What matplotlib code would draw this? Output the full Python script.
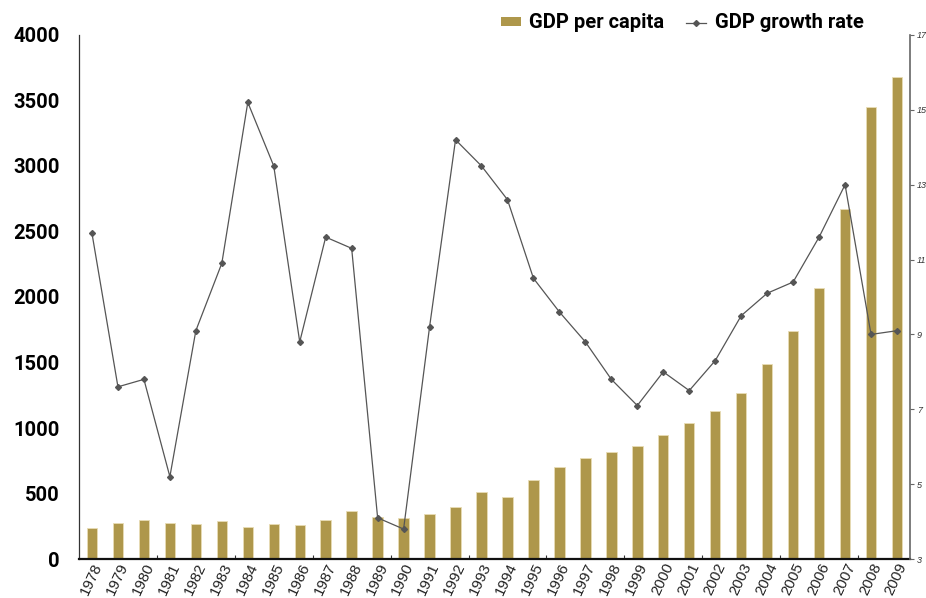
import matplotlib
matplotlib.use("Agg")
import matplotlib.pyplot as plt
from matplotlib.ticker import MultipleLocator, FixedLocator, NullFormatter
from matplotlib.patches import Patch
from matplotlib.lines import Line2D
import numpy as np

# data
years = [str(y) for y in range(1978, 2010)]
gdp_per_capita = [237, 275, 300, 277, 270, 290, 244, 265, 257, 295,
                  364, 318, 310, 343, 397, 514, 476, 603, 700, 771,
                  817, 860, 944, 1036, 1132, 1270, 1489, 1738, 2069, 2674,
                  3450, 3679]
growth_rate = [11.7, 7.6, 7.8, 5.2, 9.1, 10.9, 15.2, 13.5, 8.8, 11.6,
               11.3, 4.1, 3.8, 9.2, 14.2, 13.5, 12.6, 10.5, 9.6, 8.8,
               7.8, 7.1, 8.0, 7.5, 8.3, 9.5, 10.1, 10.4, 11.6, 13.0,
               9.0, 9.1]
rate_ticks = [3, 5, 7, 9, 11, 13, 15, 17]

bar_color = '#ae974b'
line_color = '#555555'

fig = plt.figure(figsize=(9.26, 5.98), dpi=100)
ax0 = fig.add_axes([0.0853, 0.0652, 0.8974, 0.8763])
ax1 = ax0.twinx()

x = np.arange(len(years))
ax0.bar(x, gdp_per_capita, width=0.4, color=bar_color, edgecolor='#e8ddb5', linewidth=0.6, zorder=2)
ax1.plot(x, growth_rate, color=line_color, linewidth=0.9, marker='D', markersize=3, zorder=3)

# left axis
ax0.set_xlim(-0.5, len(years) - 0.5)
ax0.set_ylim(0, 4000)
ax0.yaxis.set_major_locator(MultipleLocator(500))
ax0.tick_params(axis='y', length=0, pad=14, labelsize=14.5)
for lab in ax0.get_yticklabels():
    lab.set_fontfamily('Roboto')
    lab.set_fontweight('bold')

# x axis: labels every year, tick marks every 3 categories
ax0.xaxis.set_major_locator(FixedLocator(x))
ax0.set_xticklabels(years, rotation=65, ha='right', va='top', rotation_mode='anchor',
                    fontsize=10.8, fontfamily='Liberation Sans', color='#222222')
ax0.tick_params(axis='x', which='major', length=0, pad=1.5)
ax0.xaxis.set_minor_locator(FixedLocator(np.arange(2.5, len(years), 3)))
ax0.xaxis.set_minor_formatter(NullFormatter())
ax0.tick_params(axis='x', which='minor', length=3, direction='in', color='#333333', width=0.8)

# right axis
ax1.set_ylim(3, 17)
ax1.yaxis.set_major_locator(FixedLocator(rate_ticks))
ax1.tick_params(axis='y', length=3, width=0.8, color='#666666', labelsize=6.5, labelcolor='#333333', pad=2)
for lab in ax1.get_yticklabels():
    lab.set_fontstyle('italic')
    lab.set_fontfamily('Liberation Sans')

# spines
for a in (ax0, ax1):
    a.spines['top'].set_visible(False)
ax1.spines['left'].set_visible(False)
ax1.spines['bottom'].set_visible(False)
ax0.spines['right'].set_visible(False)
ax0.spines['left'].set_color('#333333')
ax0.spines['left'].set_linewidth(0.9)
ax0.spines['bottom'].set_color('#111111')
ax0.spines['bottom'].set_linewidth(1.6)
ax1.spines['right'].set_color('#666666')
ax1.spines['right'].set_linewidth(1.2)

# legend
handles = [Patch(facecolor=bar_color, edgecolor='none'),
           Line2D([0], [0], color=line_color, linewidth=0.9, marker='D', markersize=3)]
fig.legend(handles, ['GDP per capita', 'GDP growth rate'], loc='upper right',
           bbox_to_anchor=(0.952, 1.008), ncol=2, frameon=False,
           prop={'family': 'Roboto', 'weight': 'bold', 'size': 14.5},
           handlelength=1.0, handleheight=0.3, columnspacing=1.1, handletextpad=0.4)

plt.savefig("out.png", dpi=100)
